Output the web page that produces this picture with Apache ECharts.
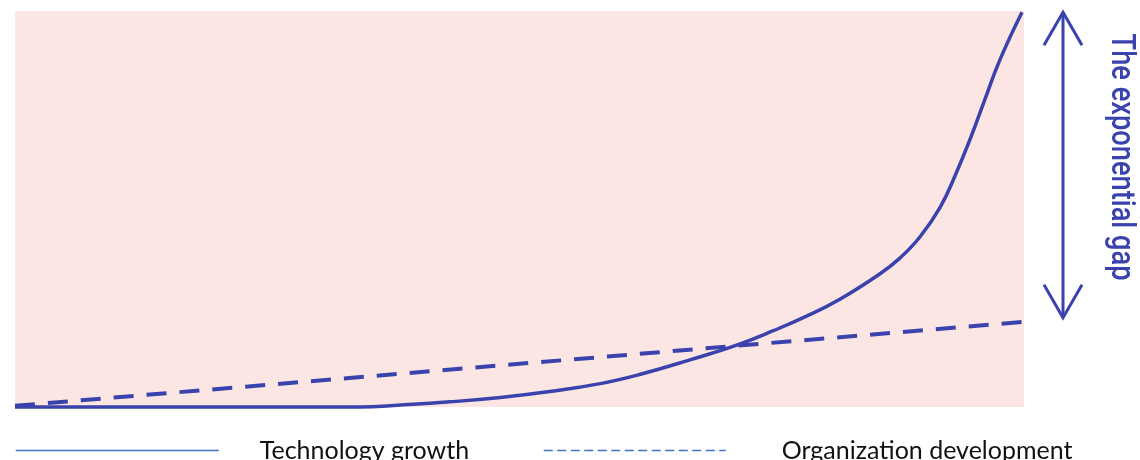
<!DOCTYPE html>
<html>
<head>
<meta charset="utf-8">
<script src="https://cdn.jsdelivr.net/npm/echarts@6/dist/echarts.min.js"></script>
<style>
  html, body { margin: 0; padding: 0; background: #ffffff; }
  #chart { width: 1140px; height: 460px; }
</style>
</head>
<body>
<div id="chart"></div>
<script>
// Time runs 0..100 along x, level 0..100 up y (arbitrary units).
const techTime   = [0, 34.2, 38.2, 43.1, 48.1, 53.0, 58.0, 61.9, 66.9, 71.6, 75.1, 78.5, 81.8, 85.7, 87.7, 89.7, 91.7, 93.2, 94.7, 96.1, 97.6, 99.8];
const techGrowth = [0, 0,    0.5,  1.3,  2.4,  3.9,  5.9,  8.2,  11.9, 15.7, 19.2, 23.0, 27.3, 33.6, 37.6, 43.0, 50.5, 58.6, 67.9, 77.5, 87.6, 99.7];
const orgTime        = [0, 100];
const orgDevelopment = [0.3, 21.5];
const seriesNames = ['Technology growth', 'Organization development'];
const gapLabel = 'The exponential gap';

const ink = '#3a42ad';
const legendBlue = '#4472c4';

const pairs = (xs, ys) => xs.map((x, i) => [x, ys[i]]);

const chart = echarts.init(document.getElementById('chart'), null, { renderer: 'canvas' });

const legendText = { fontFamily: 'Lato', fontSize: 25, color: '#111111' };

chart.setOption({
  animation: false,
  backgroundColor: '#ffffff',
  grid: {
    left: 15, right: 116, top: 11, bottom: 53,
    show: true, backgroundColor: '#fbe6e3', borderWidth: 0
  },
  xAxis: { type: 'value', min: 0, max: 100, show: false },
  yAxis: { type: 'value', min: 0, max: 100, show: false },
  legend: [
    {
      left: 15, top: 438, padding: 0, itemWidth: 203, itemHeight: 14, itemGap: 0,
      selectedMode: false,
      textStyle: Object.assign({ padding: [0, 0, 0, 36] }, legendText),
      data: [{
        name: seriesNames[0],
        itemStyle: { opacity: 0 },
        lineStyle: { color: legendBlue, width: 1.5, type: 'solid' }
      }]
    },
    {
      left: 543, top: 438, padding: 0, itemWidth: 182, itemHeight: 14, itemGap: 0,
      selectedMode: false,
      textStyle: Object.assign({ padding: [0, 0, 0, 51] }, legendText),
      data: [{
        name: seriesNames[1],
        itemStyle: { opacity: 0 },
        lineStyle: { color: legendBlue, width: 1.5, type: [9, 4.5] }
      }]
    }
  ],
  series: [
    {
      name: seriesNames[0],
      type: 'line',
      data: pairs(techTime, techGrowth),
      smooth: 0.45,
      symbol: 'none',
      clip: false,
      lineStyle: { color: ink, width: 3.5 },
      z: 3
    },
    {
      name: seriesNames[1],
      type: 'line',
      data: pairs(orgTime, orgDevelopment),
      symbol: 'none',
      clip: false,
      lineStyle: { color: ink, width: 4, type: [20, 13] },
      z: 2
    }
  ]
});

// Double-headed arrow spanning the gap between the two end values.
const endX = orgTime[orgTime.length - 1];
const topPt = chart.convertToPixel({ gridIndex: 0 }, [endX, techGrowth[techGrowth.length - 1]]);
const botPt = chart.convertToPixel({ gridIndex: 0 }, [endX, orgDevelopment[orgDevelopment.length - 1]]);
const ax = topPt[0] + 39;
const yTop = topPt[1];
const yBot = botPt[1] - 4;
const headW = 19, headH = 33;
const arrowStyle = { stroke: ink, lineWidth: 3, fill: null, lineJoin: 'miter' };

// Condensed label: squeeze the run of text to the arrow's length.
const labelFont = '500 33px Roboto, "Liberation Sans", sans-serif';
const measureCtx = document.createElement('canvas').getContext('2d');
measureCtx.font = labelFont;
const labelWidth = measureCtx.measureText(gapLabel).width;
const labelSpan = 247;
const squeeze = Math.min(1, labelSpan / labelWidth);

chart.setOption({
  graphic: [
    { type: 'line', shape: { x1: ax, y1: yTop, x2: ax, y2: yBot }, style: arrowStyle, silent: true },
    { type: 'polyline', shape: { points: [[ax - headW, yTop + headH], [ax, yTop], [ax + headW, yTop + headH]] }, style: arrowStyle, silent: true },
    { type: 'polyline', shape: { points: [[ax - headW, yBot - headH], [ax, yBot], [ax + headW, yBot - headH]] }, style: arrowStyle, silent: true },
    {
      type: 'text',
      x: ax + 57,
      y: (yTop + yBot) / 2 - 8,
      rotation: -Math.PI / 2,
      scaleX: squeeze,
      silent: true,
      style: {
        text: gapLabel,
        fill: ink,
        font: labelFont,
        align: 'center',
        verticalAlign: 'middle'
      }
    }
  ]
});
</script>
</body>
</html>
